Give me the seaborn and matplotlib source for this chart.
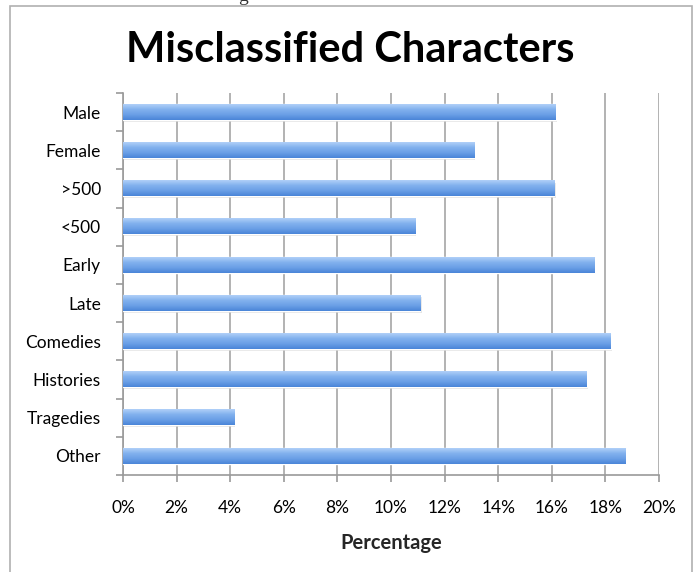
import matplotlib
matplotlib.use("Agg")
import matplotlib.pyplot as plt
import numpy as np
import pandas as pd
import seaborn as sns
from matplotlib.colors import LinearSegmentedColormap
from matplotlib.patches import Rectangle
from matplotlib.ticker import FixedLocator, PercentFormatter

categories = ["Male", "Female", ">500", "<500", "Early", "Late",
              "Comedies", "Histories", "Tragedies", "Other"]
percentages = [16.15, 13.1, 16.1, 10.9, 17.6, 11.1, 18.2, 17.3, 4.15, 18.75]
x_ticks = [0, 2, 4, 6, 8, 10, 12, 14, 16, 18, 20]

title = "Misclassified Characters"
x_label = "Percentage"


def main():
    sns.set_theme(style="white")
    plt.rcParams["font.family"] = ["Lato", "DejaVu Sans"]

    df = pd.DataFrame({"category": categories, "pct": percentages})

    fig = plt.figure(figsize=(6.97, 5.72), dpi=100)
    ax = fig.add_axes([123 / 697, 1 - 475 / 572, 536 / 697, 382 / 572])

    sns.barplot(data=df, x="pct", y="category", orient="h", ax=ax,
                color="#6ea2e6", width=0.4, saturation=1, zorder=3)

    # gradient fill over each bar, light on top, darker underneath
    cmap = LinearSegmentedColormap.from_list("bar", ["#b0d0f8", "#82b1ee", "#6a9fe6", "#4a85d8"])
    grad = np.linspace(0, 1, 64).reshape(-1, 1)
    for p in ax.patches:
        x0, y0 = p.get_x(), p.get_y()
        w, h = p.get_width(), p.get_height()
        # soft shadow under the bar
        ax.add_patch(Rectangle((x0, y0 + 0.05), w + 0.04, h, color="#d4d4d4",
                               alpha=0.6, lw=0, zorder=2))
        ax.imshow(grad, cmap=cmap, aspect="auto", zorder=4,
                  extent=(x0, x0 + w, y0 + h, y0), interpolation="bilinear")

    ax.set_xlim(0, 20)
    ax.set_ylim(len(categories) - 0.5, -0.5)
    ax.set_xticks(x_ticks)
    ax.xaxis.set_major_formatter(PercentFormatter(decimals=0))
    ax.grid(axis="x", color="#a6a6a6", lw=1.2, zorder=0)
    ax.grid(axis="y", visible=False)

    for s in ["top", "right"]:
        ax.spines[s].set_visible(False)
    for s in ["left", "bottom"]:
        ax.spines[s].set_color("#9a9a9a")
        ax.spines[s].set_linewidth(1.2)

    ax.yaxis.set_minor_locator(FixedLocator(np.arange(-0.5, len(categories), 1)))
    ax.tick_params(axis="y", which="major", length=0, pad=16, labelsize=12.5, labelcolor="black")
    ax.tick_params(axis="y", which="minor", length=5, width=1.2, color="#9a9a9a", left=True)
    ax.tick_params(axis="x", which="major", length=5, width=1.2, color="#9a9a9a",
                   bottom=True, pad=13, labelsize=12.5, labelcolor="black")

    ax.set_ylabel("")
    ax.set_xlabel(x_label, fontsize=14.5, fontweight="bold", labelpad=12)

    fig.text(350 / 697, 1 - 50 / 572, title, ha="center", va="center",
             fontsize=30, fontweight="bold", color="black")
    # caption fragment clipped at the top of the page
    fig.text(243 / 697, 1 - 1 / 572, "g", ha="center", va="baseline",
             fontsize=14, family="Liberation Serif", color="#333333")

    frame = Rectangle((10 / 697, -0.1), 682 / 697, 1.1 - 6 / 572, transform=fig.transFigure,
                      fill=False, edgecolor="#b0b0b0", lw=1.2)
    fig.patches.append(frame)

    fig.savefig("out.png", dpi=100)


if __name__ == "__main__":
    main()
